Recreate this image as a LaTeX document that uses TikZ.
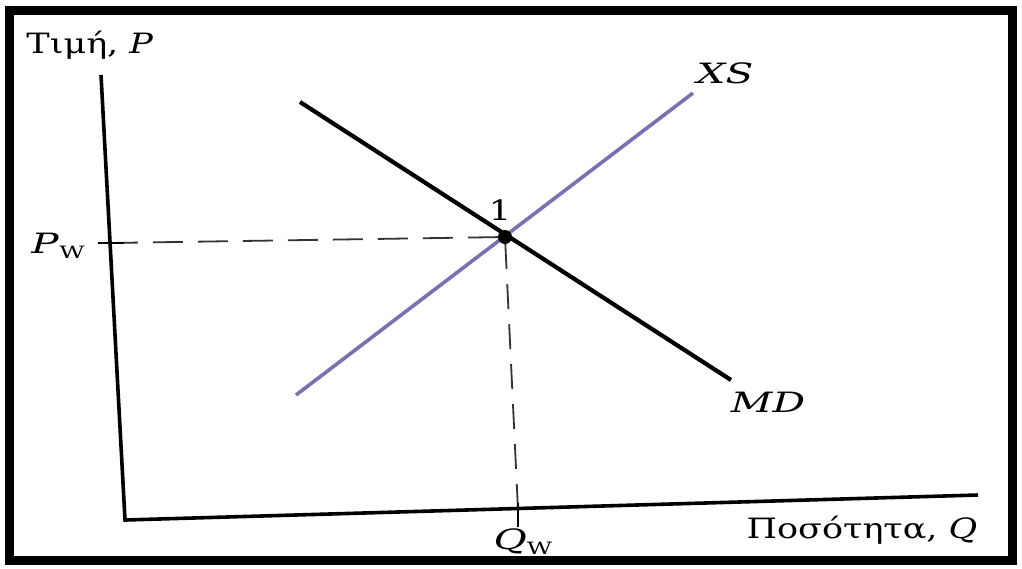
\documentclass[tikz,border=0pt]{standalone}
\usepackage{fontspec}
\usepackage{graphicx}
\setmainfont{DejaVu Serif}
\newcommand\wideup[1]{\scalebox{1.25}[1]{#1}}
\newcommand\wideit[1]{\scalebox{1.45}[1]{#1}}
\begin{document}
\begin{tikzpicture}[x=1pt,y=-1pt,
  axis/.style={line width=3.6pt,black},
  mdline/.style={line width=4.2pt,black},
  xsline/.style={line width=3.6pt,color=xscol},
  guide/.style={line width=1.8pt,color=black!80,dash pattern=on 30pt off 15pt},
  lbl/.style={inner sep=0pt,font=\fontsize{28}{32}\selectfont}]
\definecolor{xscol}{RGB}{120,114,178}
\useasboundingbox (0,0) rectangle (1022,568);
\fill[white] (0,0) rectangle (1022,568);
\draw[line width=9pt] (9.5,10) rectangle (1012.5,560);
% axes
\coordinate (Ytop) at (101,75);
\coordinate (O) at (125,520);
\coordinate (Xend) at (978,495);
\draw[axis] (Ytop) -- (O) -- (Xend);
% curves
\coordinate (MDa) at (300,102);
\coordinate (MDb) at (731,380);
\coordinate (XSa) at (296,395);
\coordinate (XSb) at (693,93);
\draw[xsline] (XSa) -- (XSb);
\draw[mdline] (MDa) -- (MDb);
% equilibrium
\node[circle,fill=black,inner sep=0pt,minimum size=14pt] (E) at (505,237) {};
\coordinate (Ptick) at (110,243);
\coordinate (Qtick) at (518,510);
\draw[guide] (E) -- (Ptick);
\draw[guide,dash pattern=on 25pt off 15pt] (E) -- (Qtick);
\draw[line width=1.8pt] (98,243) -- (124,243);
\draw[line width=1.8pt] (518,503) -- (518,527);
% labels
\node[lbl] (ylab) at (90,45) {\wideup{Τιμή, \textit{P}}};
\node[lbl] (xlab) at (862,530) {\wideup{Ποσότητα, \textit{Q}}};
\node[lbl] (pw) at (58,246) {\wideit{\textit{P}\raisebox{-0.35ex}{\fontsize{17}{20}\selectfont W}}};
\node[lbl] (qw) at (523,542) {\wideit{\textit{Q}\raisebox{-0.35ex}{\fontsize{17}{20}\selectfont W}}};
\node[lbl] (one) at (500,210) {\wideup{1}};
\node[lbl] (xs) at (725,73) {\wideit{\textit{XS}}};
\node[lbl] (md) at (768,402) {\wideit{\textit{MD}}};
\end{tikzpicture}
\end{document}
